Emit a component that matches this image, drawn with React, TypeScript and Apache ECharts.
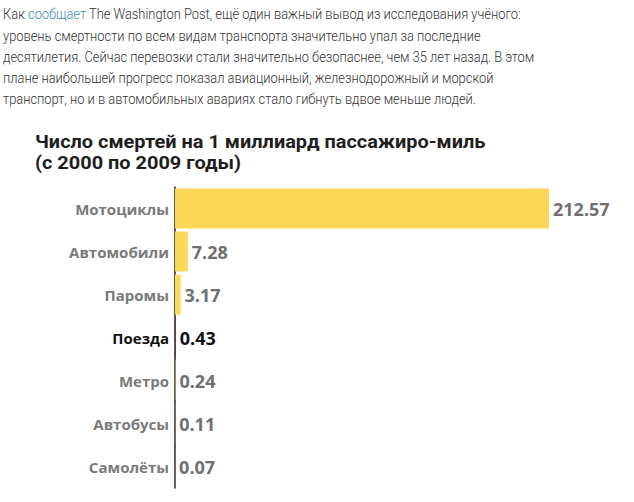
import React, { useEffect, useRef } from "react";
import * as echarts from "echarts";

const categories = ["Мотоциклы", "Автомобили", "Паромы", "Поезда", "Метро", "Автобусы", "Самолёты"];
const values = [212.57, 7.28, 3.17, 0.43, 0.24, 0.11, 0.07];
const highlighted = "Поезда";

const introLines = [
  "Как {link|сообщает} The Washington Post, ещё один важный вывод из исследования учёного:",
  "уровень смертности по всем видам транспорта значительно упал за последние",
  "десятилетия. Сейчас перевозки стали значительно безопаснее, чем 35 лет назад. В этом",
  "плане наибольшей прогресс показал авиационный, железнодорожный и морской",
  "транспорт, но и в автомобильных авариях стало гибнуть вдвое меньше людей.",
];
const titleLines = ["Число смертей на 1 миллиард пассажиро-миль", "(с 2000 по 2009 годы)"];

export default function App() {
  const ref = useRef<HTMLDivElement>(null);
  useEffect(() => {
    if (!ref.current) return;
    const chart = echarts.init(ref.current, undefined, { renderer: "svg" });
    const lineY = [14, 36, 57, 78, 99];
    const titleY = [142, 163];
    const intro = introLines.map((t, i) => ({
      type: "text",
      x: 3,
      y: lineY[i],
      scaleX: 0.86,
      style: {
        text: t,
        fontFamily: "Roboto",
        fontWeight: 300,
        fontSize: 15,
        fill: "#333333",
        verticalAlign: "middle",
        rich: {
          link: {
            fontFamily: "Roboto",
            fontWeight: 300,
            fontSize: 15,
            fill: "#3d8bc4",
            color: "#3d8bc4",
          },
        },
      },
    }));
    const title = titleLines.map((t, i) => ({
      type: "text",
      x: 35,
      y: titleY[i],
      scaleX: 1.05,
      style: {
        text: t,
        fontFamily: "Roboto",
        fontWeight: "bold",
        fontSize: 19,
        fill: "#1e1e1e",
        verticalAlign: "middle",
      },
    }));
    chart.setOption({
      animation: false,
      backgroundColor: "#ffffff",
      graphic: [...intro, ...title],
      grid: { left: 175, right: 85, top: 187, bottom: 14, containLabel: false },
      xAxis: {
        type: "value",
        min: 0,
        max: "dataMax",
        show: false,
      },
      yAxis: {
        type: "category",
        data: categories,
        inverse: true,
        axisLine: { show: true, lineStyle: { color: "#222", width: 1.5 } },
        axisTick: { show: false },
        splitLine: { show: false },
        axisLabel: {
          margin: 6,
          color: "#7a7a7a",
          fontFamily: "Open Sans",
          fontWeight: "bold",
          fontSize: 15,
          formatter: (v: string) => (v === highlighted ? `{hl|${v}}` : v),
          rich: {
            hl: {
              color: "#111111",
              fontFamily: "Open Sans",
              fontWeight: "bold",
              fontSize: 15,
            },
          },
        },
      },
      series: [
        {
          type: "bar",
          barWidth: 40,
          data: values.map((v, i) => ({
            value: v,
            itemStyle: { color: categories[i] === highlighted ? "#6b2f5a" : "#f9d957" },
            label: categories[i] === highlighted ? { color: "#111111" } : undefined,
          })),
          label: {
            show: true,
            position: "right",
            distance: 4,
            fontFamily: "Open Sans",
            fontWeight: "bold",
            fontSize: 18,
            color: "#707070",
            formatter: (p: any) => Number(p.value).toFixed(2),
          },
        },
      ],
    });
    return () => chart.dispose();
  }, []);
  return (
    <div
      ref={ref}
      style={{ position: "fixed", left: 0, top: 0, width: 634, height: 502, background: "#fff" }}
    />
  );
}
